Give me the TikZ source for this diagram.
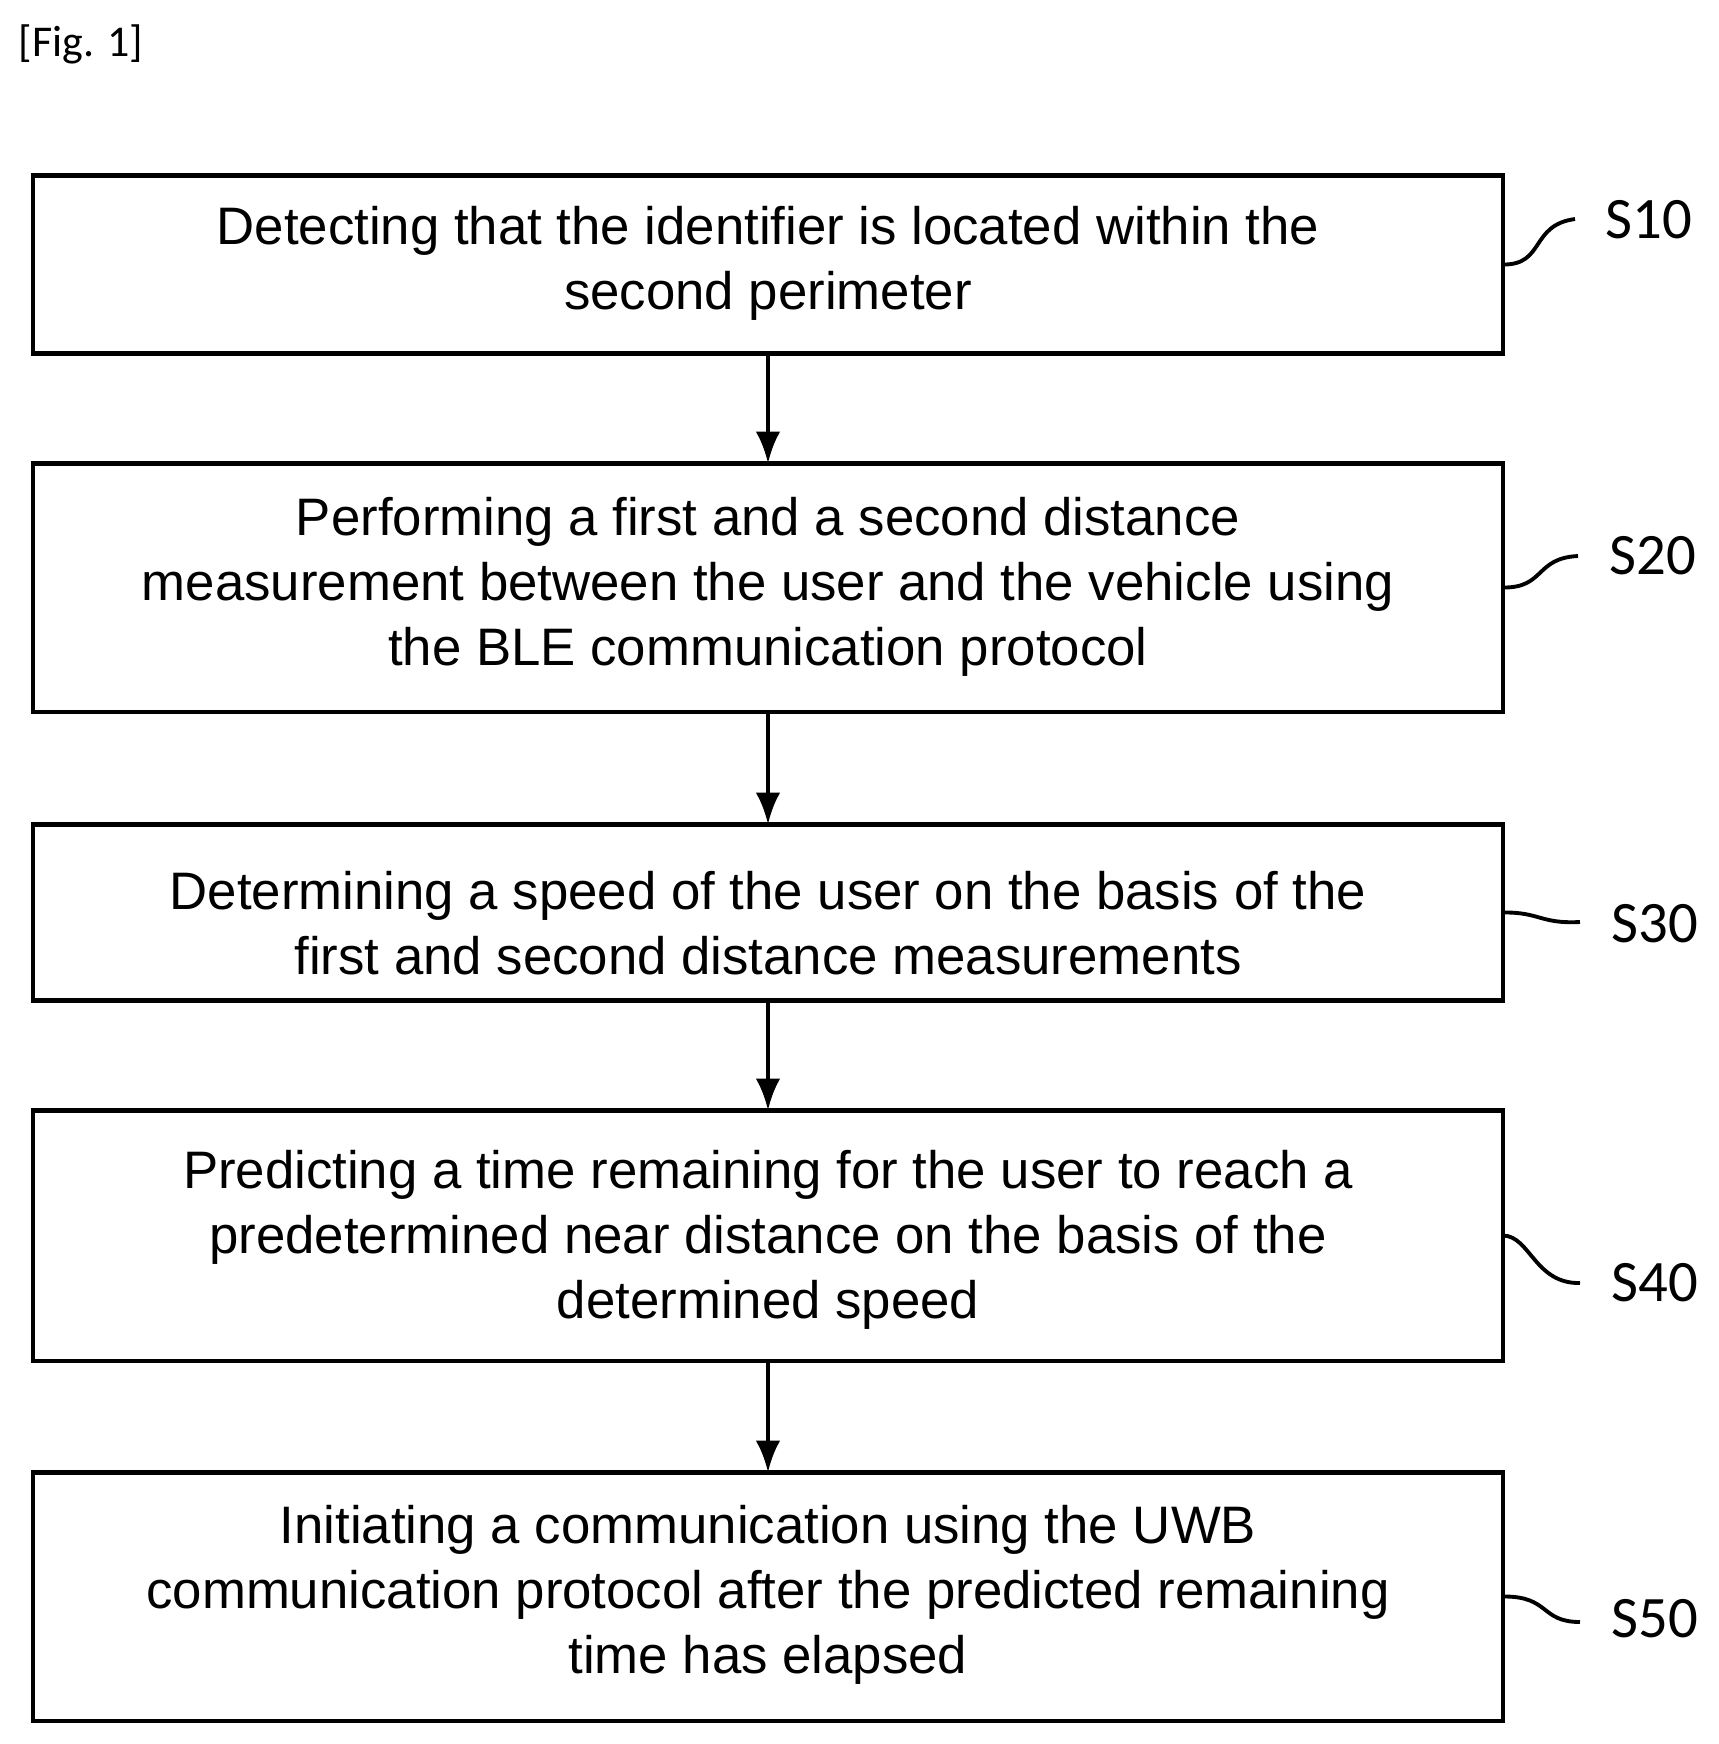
\documentclass[tikz,border=0pt]{standalone}
\usepackage{fontspec}
\usetikzlibrary{arrows.meta}
\setmainfont{Liberation Sans}
\newfontfamily\lblfont{Carlito}
\begin{document}
\begin{tikzpicture}[x=0.01cm,y=-0.01cm,
  box/.style={draw,line width=1.3pt,inner sep=0},
  hold/.style={inner sep=0,minimum width=14.68cm},
  txt/.style={align=center,font=\fontsize{15}{18.5}\selectfont},
  lbl/.style={anchor=west,inner sep=0,font=\lblfont\fontsize{16.7}{20}\selectfont},
  arr/.style={line width=1.2pt,-{Latex[length=9pt,width=7pt]}},
  sq/.style={line width=1.1pt}]
\useasboundingbox (0,0) rectangle (1719,1744);
\node[anchor=north west,inner sep=0,font=\lblfont\fontsize{12.5}{15}\selectfont] (fig) at (18,24) {[Fig. 1]};
\node[hold,minimum height=1.77cm] (b1) at (768,264.5) {};
\node[hold,minimum height=2.47cm] (b2) at (768,587.5) {};
\node[hold,minimum height=1.75cm] (b3) at (768,912.5) {};
\node[hold,minimum height=2.49cm] (b4) at (768,1235.5) {};
\node[hold,minimum height=2.47cm] (b5) at (768,1596.5) {};
\foreach \b in {b1,b2,b3,b4,b5} \draw[box] (\b.north west) rectangle (\b.south east);
\node[txt] (t1) at (768,263) {Detecting that the identifier is located within the\\second perimeter};
\node[txt] (t2) at (768,587) {Performing a first and a second distance\\measurement between the user and the vehicle using\\the BLE communication protocol};
\node[txt] (t3) at (768,923) {Determining a speed of the user on the basis of the\\first and second distance measurements};
\node[txt] (t4) at (768,1240) {Predicting a time remaining for the user to reach a\\predetermined near distance on the basis of the\\determined speed};
\node[txt] (t5) at (768,1595) {Initiating a communication using the UWB\\communication protocol after the predicted remaining\\time has elapsed};
\draw[arr] (b1.south) -- (b2.north);
\draw[arr] (b2.south) -- (b3.north);
\draw[arr] (b3.south) -- (b4.north);
\draw[arr] (b4.south) -- (b5.north);
\node[lbl] (s1) at (1605,220) {S10};
\node[lbl] (s2) at (1609,556) {S20};
\node[lbl] (s3) at (1611,924) {S30};
\node[lbl] (s4) at (1611,1283) {S40};
\node[lbl] (s5) at (1611,1619) {S50};
\draw[sq] (b1.east) .. controls (1545,265) and (1530,225) .. (1575,219);
\draw[sq] (b2.east) .. controls (1545,588) and (1535,558) .. (1578,556);
\draw[sq] (b3.east) .. controls (1540,912) and (1540,924) .. (1580,922);
\draw[sq] (b4.east) .. controls (1530,1236) and (1535,1284) .. (1580,1283);
\draw[sq] (b5.east) .. controls (1550,1596) and (1540,1622) .. (1580,1622);
\end{tikzpicture}
\end{document}
